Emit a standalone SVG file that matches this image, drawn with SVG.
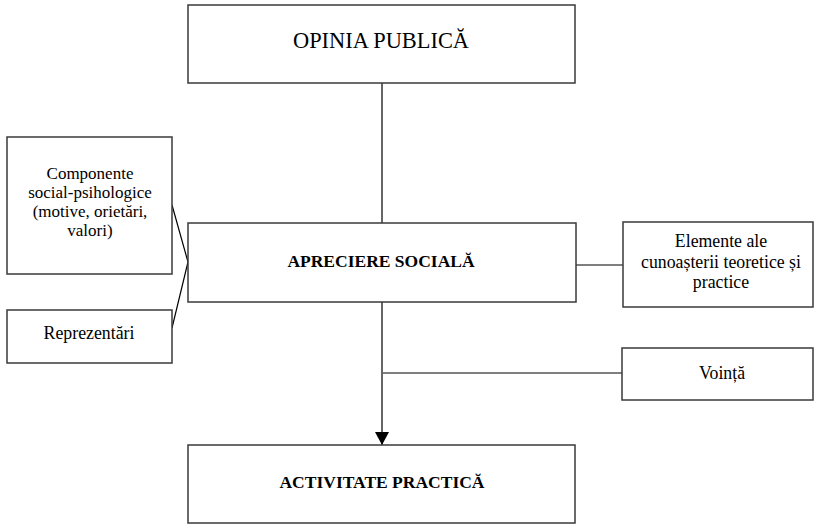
<svg xmlns="http://www.w3.org/2000/svg" width="814" height="524" viewBox="0 0 814 524">
<defs>
<style>
.box{fill:#fff;stroke:#3a3a3a;stroke-width:1.5}
text{font-family:'Liberation Serif','Times New Roman','DejaVu Serif',serif;fill:#000;text-anchor:middle}
.s{font-size:17.8px}
.s2{font-size:17px}
.b{font-size:17.5px;font-weight:bold}
.c{stroke:#000;stroke-width:1.2;fill:none}
</style>
<marker id="arr" markerWidth="14" markerHeight="14" refX="13" refY="7" orient="auto" markerUnits="userSpaceOnUse">
<path d="M0,0 L13,7 L0,14 z" fill="#000"/>
</marker>
</defs>
<rect width="814" height="524" fill="#fff"/>
<g id="connectors">
<line class="c" x1="382" y1="83" x2="382" y2="223"/>
<polyline class="c" points="172,205 188,262 172,328"/>
<line class="c" x1="576" y1="265" x2="623" y2="265"/>
<line class="c" x1="382" y1="302" x2="382" y2="445" marker-end="url(#arr)"/>
<line class="c" x1="383" y1="373" x2="622" y2="373"/>
</g>
<g id="opinia">
<rect class="box" x="188" y="5" width="387" height="78"/>
<text x="381" y="48" font-size="22.4">OPINIA PUBLICĂ</text>
</g>
<g id="componente">
<rect class="box" x="7" y="137" width="165" height="137"/>
<text class="s2" x="90" y="179">Componente</text>
<text class="s2" x="90" y="198">social-psihologice</text>
<text class="s2" x="90" y="217">(motive, orietări,</text>
<text class="s2" x="90" y="236">valori)</text>
</g>
<g id="reprezentari">
<rect class="box" x="7" y="310" width="165" height="53"/>
<text class="s" x="89" y="339">Reprezentări</text>
</g>
<g id="apreciere">
<rect class="box" x="188" y="223" width="388" height="79"/>
<text class="b" x="381" y="267">APRECIERE SOCIALĂ</text>
</g>
<g id="elemente">
<rect class="box" x="623" y="222" width="190" height="85"/>
<text class="s" x="721" y="247">Elemente ale</text>
<text class="s" x="721" y="268">cunoașterii teoretice și</text>
<text class="s" x="721" y="288">practice</text>
</g>
<g id="vointa">
<rect class="box" x="622" y="348" width="191" height="52"/>
<text class="s" x="722" y="379">Voință</text>
</g>
<g id="activitate">
<rect class="box" x="188" y="445" width="387" height="78"/>
<text class="b" x="382" y="488">ACTIVITATE PRACTICĂ</text>
</g>
</svg>
